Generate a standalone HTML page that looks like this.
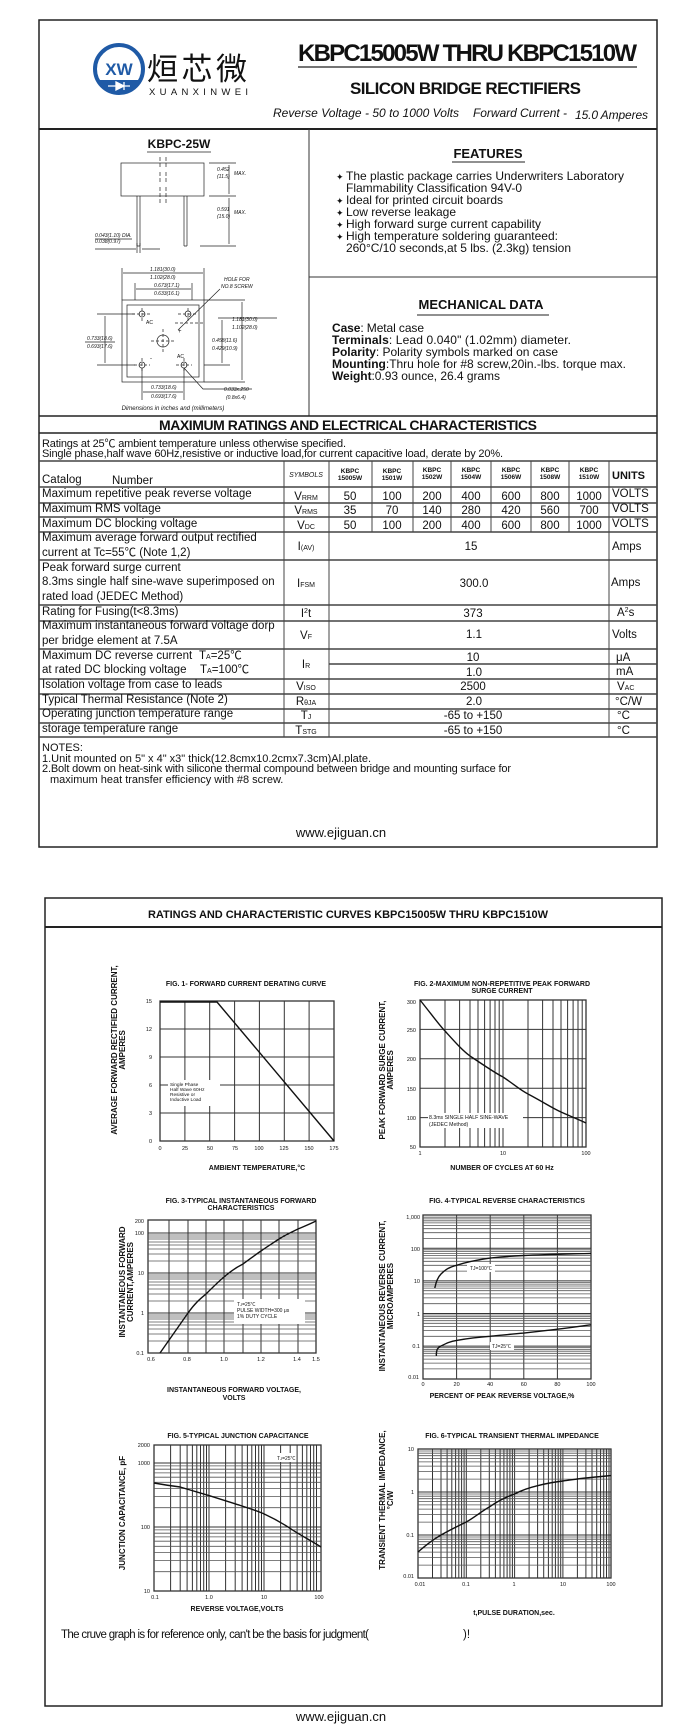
<!DOCTYPE html>
<html><head><meta charset="utf-8"><style>
html,body{margin:0;padding:0;background:#fff;}
svg{display:block;}
text{font-family:"Liberation Sans","Noto Sans CJK SC",sans-serif;fill:#111;}
.b{font-weight:bold;}
.g{stroke:#333;stroke-width:1;fill:none;}
.m{stroke:#555;stroke-width:0.8;fill:none;}
.c{stroke:#111;stroke-width:1.4;fill:none;}
.t{stroke:#333;stroke-width:1.3;fill:none;}
.d{stroke:#222;stroke-width:0.7;fill:none;}
</style></head><body>
<svg width="694" height="1736" viewBox="0 0 694 1736" xmlns="http://www.w3.org/2000/svg">
<!-- PAGE 1 -->
<rect x="39" y="20" width="618" height="827" fill="none" stroke="#222" stroke-width="1.5"/>
<circle cx="119" cy="69" r="24" fill="none" stroke="#1f5aa6" stroke-width="4"/>
<path d="M97,80 A24,24 0 0 0 141,80 Z" fill="#1f5aa6"/>
<text x="119" y="75" font-size="17" text-anchor="middle" style="fill:#1f5aa6" class="b">XW</text>
<path d="M108,86 H130 M116,82 V90 M116,82 L124,86 L116,90 Z M124,82 V90" stroke="#fff" stroke-width="1.3" fill="#fff"/>
<text x="147" y="80" font-size="31" style="font-family:'Noto Sans CJK SC',sans-serif" textLength="100">烜芯微</text>
<text x="149" y="95" font-size="9.5" textLength="99">XUANXINWEI</text>
<text x="298" y="61" font-size="24" class="b" textLength="339">KBPC15005W THRU KBPC1510W</text>
<line x1="298" y1="67" x2="637" y2="67" stroke="#222" stroke-width="1.2"/>
<text x="350" y="94" font-size="17" class="b" textLength="231">SILICON BRIDGE RECTIFIERS</text>
<text x="273" y="117" font-size="12" font-style="italic" textLength="186">Reverse Voltage - 50 to 1000 Volts</text>
<text x="473" y="117" font-size="12" font-style="italic" textLength="94">Forward Current -</text>
<text x="575" y="119" font-size="12" font-style="italic" textLength="73">15.0 Amperes</text>
<line x1="39" y1="129" x2="657" y2="129" stroke="#222" stroke-width="2"/>
<line x1="309" y1="129" x2="309" y2="416" stroke="#333" stroke-width="1"/>
<line x1="309" y1="277" x2="657" y2="277" stroke="#333" stroke-width="1"/>
<text x="179" y="148" font-size="12" class="b" text-anchor="middle">KBPC-25W</text>
<line x1="147" y1="152" x2="211" y2="152" stroke="#222" stroke-width="0.8"/>
<rect x="121" y="163" width="83" height="33" class="d"/>
<path d="M160,157 V168 M160,172 V183 M160,187 V205 M166,157 V168 M166,172 V183 M166,187 V205" class="d" stroke-dasharray="4,2"/>
<path d="M137,196 V246 M140,196 V246 M184,196 V246 M187,196 V246 M137,246 H140 M184,246 H187" class="d"/>
<path d="M209,163 H236 M209,196 H236 M200,246 H236 M229,165 V194 M229,198 V244" class="d"/>
<text x="217" y="171" font-size="5" font-style="italic">0.452</text><text x="217" y="178" font-size="5" font-style="italic">(11.5)</text><text x="234" y="175" font-size="5" font-style="italic">MAX.</text>
<text x="217" y="211" font-size="5" font-style="italic">0.591</text><text x="217" y="218" font-size="5" font-style="italic">(15.0)</text><text x="234" y="214" font-size="5" font-style="italic">MAX.</text>
<text x="95" y="237" font-size="5" font-style="italic">0.043(1.10) DIA.</text><text x="95" y="243" font-size="5" font-style="italic">0.038(0.97)</text>
<path d="M95,239 H132 M95,249 H136 M142,249 H160 M137,243 V253 M140,243 V253" class="d"/>
<rect x="122" y="300" width="82" height="82" class="d"/>
<rect x="127" y="305" width="72" height="72" class="d"/>
<circle cx="142" cy="314" r="3" class="d"/><circle cx="188" cy="314" r="3" class="d"/>
<circle cx="142" cy="365" r="3" class="d"/><circle cx="184" cy="365" r="3" class="d"/>
<circle cx="163" cy="341" r="6" class="d"/>
<path d="M151,341 H175 M163,329 V353 M132,314 H152 M178,314 H198 M134,365 H150 M176,365 H192 M142,308 V322 M188,308 V322 M142,358 V372 M184,358 V372 M175,323 H205" class="d" stroke-dasharray="3,2"/>
<text x="146" y="324" font-size="5">AC</text><text x="177" y="358" font-size="5">AC</text>
<text x="178" y="333" font-size="6">+</text><text x="150" y="360" font-size="6">-</text>
<path d="M122,268 V300 M204,268 V300 M123,273 H203 M135,283 V300 M192,283 V300 M136,289 H191" class="d"/>
<text x="150" y="271" font-size="5" font-style="italic">1.181(30.0)</text><text x="150" y="279" font-size="5" font-style="italic">1.102(28.0)</text>
<text x="154" y="287" font-size="5" font-style="italic">0.673(17.1)</text><text x="154" y="295" font-size="5" font-style="italic">0.633(16.1)</text>
<text x="224" y="281" font-size="5" font-style="italic">HOLE FOR</text><text x="221" y="288" font-size="5" font-style="italic">NO.8 SCREW</text>
<path d="M220,289 L178,330 M204,300 H245 M204,382 H245 M242,302 V380 M218,318 H277 M204,365 H230 M222,320 V363" class="d"/>
<text x="232" y="321" font-size="5" font-style="italic">1.181(30.0)</text><text x="232" y="329" font-size="5" font-style="italic">1.102(28.0)</text>
<text x="212" y="342" font-size="5" font-style="italic">0.458(11.6)</text><text x="212" y="350" font-size="5" font-style="italic">0.429(10.9)</text>
<path d="M97,314 H135 M97,365 H135 M105,316 V363 M85,342 H115" class="d"/>
<text x="87" y="340" font-size="5" font-style="italic">0.733(18.6)</text><text x="87" y="348" font-size="5" font-style="italic">0.693(17.6)</text>
<path d="M142,368 V400 M184,368 V400 M143,392 H183 M184,368 L203,389 H252" class="d"/>
<text x="151" y="389" font-size="5" font-style="italic">0.733(18.6)</text><text x="151" y="398" font-size="5" font-style="italic">0.693(17.6)</text>
<text x="224" y="391" font-size="5" font-style="italic">0.033x.250</text><text x="226" y="399" font-size="5" font-style="italic">(0.8x6.4)</text>
<text x="173" y="410" font-size="6" font-style="italic" text-anchor="middle">Dimensions in inches and (millimeters)</text>
<text x="488" y="158" font-size="13" class="b" text-anchor="middle">FEATURES</text>
<line x1="452" y1="162" x2="525" y2="162" stroke="#222" stroke-width="1"/>
<g font-size="12">
<text x="336" y="180" font-size="9">✦</text><text x="346" y="180" textLength="278">The plastic package carries Underwriters Laboratory</text>
<text x="346" y="192" textLength="176">Flammability Classification 94V-0</text>
<text x="336" y="204" font-size="9">✦</text><text x="346" y="204" textLength="157">Ideal for printed circuit boards</text>
<text x="336" y="216" font-size="9">✦</text><text x="346" y="216" textLength="110">Low reverse leakage</text>
<text x="336" y="228" font-size="9">✦</text><text x="346" y="228" textLength="195">High forward surge current capability</text>
<text x="336" y="240" font-size="9">✦</text><text x="346" y="240" textLength="212">High temperature soldering guaranteed:</text>
<text x="346" y="252" textLength="225">260°C/10 seconds,at 5 lbs. (2.3kg) tension</text>
</g>
<text x="481" y="309" font-size="13" class="b" text-anchor="middle">MECHANICAL DATA</text>
<line x1="417" y1="315" x2="549" y2="315" stroke="#222" stroke-width="1"/>
<g font-size="12">
<text x="332" y="332" textLength="92"><tspan class="b">Case</tspan>: Metal case</text>
<text x="332" y="344" textLength="239"><tspan class="b">Terminals</tspan>: Lead 0.040"   (1.02mm) diameter.</text>
<text x="332" y="356" textLength="226"><tspan class="b">Polarity</tspan>: Polarity symbols marked on case</text>
<text x="332" y="368" textLength="294"><tspan class="b">Mounting</tspan>:Thru hole for #8 screw,20in.-lbs. torque max.</text>
<text x="332" y="380" textLength="168"><tspan class="b">Weight</tspan>:0.93 ounce, 26.4 grams</text>
</g>
<line x1="39" y1="416" x2="657" y2="416" stroke="#222" stroke-width="1.5"/>
<text x="348" y="430" font-size="14" class="b" text-anchor="middle" textLength="378">MAXIMUM RATINGS AND ELECTRICAL CHARACTERISTICS</text>
<line x1="39" y1="433" x2="657" y2="433" stroke="#222" stroke-width="1.5"/>
<text x="42" y="447" font-size="11" textLength="304">Ratings at 25℃ ambient temperature unless otherwise specified.</text>
<text x="42" y="457" font-size="11" textLength="461">Single phase,half wave 60Hz,resistive or inductive load,for current capacitive load, derate by 20%.</text>
<g stroke="#444" stroke-width="1.4">
<line x1="39" y1="461" x2="657" y2="461"/><line x1="39" y1="487" x2="657" y2="487"/>
<line x1="39" y1="503" x2="657" y2="503"/><line x1="39" y1="517" x2="657" y2="517"/>
<line x1="39" y1="532" x2="657" y2="532"/><line x1="39" y1="560" x2="657" y2="560"/>
<line x1="39" y1="605" x2="657" y2="605"/><line x1="39" y1="621" x2="657" y2="621"/>
<line x1="39" y1="649" x2="657" y2="649"/><line x1="329" y1="664" x2="657" y2="664"/>
<line x1="39" y1="679" x2="657" y2="679"/><line x1="39" y1="694" x2="657" y2="694"/>
<line x1="39" y1="709" x2="657" y2="709"/><line x1="39" y1="723" x2="657" y2="723"/>
<line x1="39" y1="737" x2="657" y2="737"/>
</g>
<g stroke="#444" stroke-width="1">
<line x1="284" y1="461" x2="284" y2="737"/><line x1="329" y1="461" x2="329" y2="737"/>
<line x1="609" y1="461" x2="609" y2="737"/>
<line x1="372" y1="461" x2="372" y2="532"/><line x1="413" y1="461" x2="413" y2="532"/>
<line x1="451" y1="461" x2="451" y2="532"/><line x1="491" y1="461" x2="491" y2="532"/>
<line x1="531" y1="461" x2="531" y2="532"/><line x1="569" y1="461" x2="569" y2="532"/>
</g>
<text x="42" y="483" font-size="11.5">Catalog</text><text x="112" y="484" font-size="11.5">Number</text>
<text x="306" y="477" font-size="7" font-style="italic" text-anchor="middle">SYMBOLS</text>
<g font-size="6.5" class="b" text-anchor="middle">
<text x="350" y="473">KBPC</text><text x="350" y="480">15005W</text>
<text x="392" y="473">KBPC</text><text x="392" y="480">1501W</text>
<text x="432" y="472">KBPC</text><text x="432" y="479">1502W</text>
<text x="471" y="472">KBPC</text><text x="471" y="479">1504W</text>
<text x="511" y="472">KBPC</text><text x="511" y="479">1506W</text>
<text x="550" y="472">KBPC</text><text x="550" y="479">1508W</text>
<text x="589" y="472">KBPC</text><text x="589" y="479">1510W</text>
</g>
<text x="612" y="479" font-size="11" class="b">UNITS</text>
<g font-size="11.5">
<text x="42" y="497">Maximum repetitive peak reverse voltage</text>
<text x="42" y="512">Maximum RMS voltage</text>
<text x="42" y="527">Maximum DC blocking voltage</text>
<text x="42" y="541">Maximum average forward output rectified</text>
<text x="42" y="556">current at  Tc=55℃  (Note 1,2)</text>
<text x="42" y="571">Peak forward surge current</text>
<text x="42" y="585">8.3ms single half sine-wave superimposed on</text>
<text x="42" y="600">rated load (JEDEC Method)</text>
<text x="42" y="615">Rating for Fusing(t&lt;8.3ms)</text>
<text x="42" y="629">Maximum instantaneous forward voltage dorp</text>
<text x="42" y="644">per bridge element at 7.5A</text>
<text x="42" y="659">Maximum DC reverse current</text><text x="199" y="659">T<tspan font-size="7">A</tspan>=25℃</text>
<text x="42" y="673">at rated DC blocking voltage</text><text x="200" y="673">T<tspan font-size="7">A</tspan>=100℃</text>
<text x="42" y="688">Isolation voltage from case to leads</text>
<text x="42" y="703">Typical Thermal Resistance (Note 2)</text>
<text x="42" y="717">Operating junction temperature range</text>
<text x="42" y="732">storage temperature range</text>
</g>
<g font-size="11.5" text-anchor="middle">
<text x="306" y="500">V<tspan font-size="7">RRM</tspan></text>
<text x="306" y="514">V<tspan font-size="7">RMS</tspan></text>
<text x="306" y="529">V<tspan font-size="7">DC</tspan></text>
<text x="306" y="550">I<tspan font-size="7">(AV)</tspan></text>
<text x="306" y="587">I<tspan font-size="7">FSM</tspan></text>
<text x="306" y="617">I<tspan font-size="7" dy="-4">2</tspan><tspan dy="4">t</tspan></text>
<text x="306" y="639">V<tspan font-size="7">F</tspan></text>
<text x="306" y="668">I<tspan font-size="7">R</tspan></text>
<text x="306" y="690">V<tspan font-size="7">ISO</tspan></text>
<text x="306" y="705">R<tspan font-size="7">θJA</tspan></text>
<text x="306" y="719">T<tspan font-size="7">J</tspan></text>
<text x="306" y="734">T<tspan font-size="7">STG</tspan></text>
<text x="350" y="500">50</text><text x="392" y="500">100</text><text x="432" y="500">200</text><text x="471" y="500">400</text><text x="511" y="500">600</text><text x="550" y="500">800</text><text x="589" y="500">1000</text>
<text x="350" y="514">35</text><text x="392" y="514">70</text><text x="432" y="514">140</text><text x="471" y="514">280</text><text x="511" y="514">420</text><text x="550" y="514">560</text><text x="589" y="514">700</text>
<text x="350" y="529">50</text><text x="392" y="529">100</text><text x="432" y="529">200</text><text x="471" y="529">400</text><text x="511" y="529">600</text><text x="550" y="529">800</text><text x="589" y="529">1000</text>
<text x="471" y="550">15</text>
<text x="474" y="587">300.0</text>
<text x="473" y="617">373</text>
<text x="474" y="638">1.1</text>
<text x="473" y="661">10</text>
<text x="474" y="676">1.0</text>
<text x="473" y="690">2500</text>
<text x="474" y="705">2.0</text>
<text x="473" y="719">-65 to +150</text>
<text x="473" y="734">-65 to +150</text>
</g>
<g font-size="11.5">
<text x="612" y="497">VOLTS</text><text x="612" y="512">VOLTS</text><text x="612" y="527">VOLTS</text>
<text x="612" y="550">Amps</text><text x="611" y="586">Amps</text>
<text x="617" y="616">A<tspan font-size="7" dy="-4">2</tspan><tspan dy="4">s</tspan></text>
<text x="612" y="638">Volts</text>
<text x="616" y="661">μA</text><text x="616" y="675">mA</text>
<text x="617" y="690">V<tspan font-size="7">AC</tspan></text>
<text x="615" y="705">°C/W</text><text x="617" y="719">°C</text><text x="617" y="734">°C</text>
</g>
<g font-size="11">
<text x="42" y="751">NOTES:</text>
<text x="42" y="762">1.Unit mounted on 5"   x 4"   x3"   thick(12.8cmx10.2cmx7.3cm)Al.plate.</text>
<text x="42" y="772" textLength="469">2.Bolt dowm on heat-sink with silicone thermal compound between bridge and mounting surface for</text>
<text x="50" y="783">maximum heat transfer efficiency with #8 screw.</text>
</g>
<text x="341" y="837" font-size="13" text-anchor="middle">www.ejiguan.cn</text>

<!-- PAGE 2 -->
<rect x="45" y="898" width="617" height="808" fill="none" stroke="#222" stroke-width="1.5"/>
<line x1="45" y1="927" x2="662" y2="927" stroke="#222" stroke-width="2"/>
<text x="348" y="918" font-size="11" class="b" text-anchor="middle" textLength="400">RATINGS AND CHARACTERISTIC CURVES KBPC15005W THRU KBPC1510W</text>

<text x="246" y="986" font-size="7" class="b" text-anchor="middle">FIG. 1- FORWARD CURRENT DERATING CURVE</text>
<rect x="160" y="1001" width="174" height="140" class="t"/>
<path d="M184.9,1001V1141M209.7,1001V1141M234.6,1001V1141M259.4,1001V1141M284.3,1001V1141M309.1,1001V1141M160,1029H334M160,1057H334M160,1085H334M160,1113H334" class="g" stroke-width="1.2"/>
<rect x="168" y="1080" width="52" height="26" fill="#fff"/>
<g font-size="4.8"><text x="170" y="1086">Single Phase</text><text x="170" y="1091">Half Wave 60Hz</text><text x="170" y="1096">Resistive or</text><text x="170" y="1101">Inductive Load</text></g>
<path d="M160,1002 H217 L334,1141" class="c"/>
<g font-size="5.5" text-anchor="end"><text x="152" y="1003">15</text><text x="152" y="1031">12</text><text x="152" y="1059">9</text><text x="152" y="1087">6</text><text x="152" y="1115">3</text><text x="152" y="1143">0</text></g>
<g font-size="5.5" text-anchor="middle"><text x="160" y="1150">0</text><text x="185" y="1150">25</text><text x="210" y="1150">50</text><text x="235" y="1150">75</text><text x="259" y="1150">100</text><text x="284" y="1150">125</text><text x="309" y="1150">150</text><text x="334" y="1150">175</text></g>
<text x="257" y="1170" font-size="7" class="b" text-anchor="middle">AMBIENT TEMPERATURE,°C</text>
<text transform="translate(117,1050) rotate(-90)" font-size="8" class="b" text-anchor="middle">AVERAGE  FORWARD RECTIFIED CURRENT,</text>
<text transform="translate(125,1050) rotate(-90)" font-size="8" class="b" text-anchor="middle">AMPERES</text>

<text x="502" y="986" font-size="7" class="b" text-anchor="middle">FIG. 2-MAXIMUM NON-REPETITIVE PEAK FORWARD</text>
<text x="502" y="993" font-size="7" class="b" text-anchor="middle">SURGE CURRENT</text>
<rect x="420" y="1000" width="166" height="147" class="t"/>
<path d="M445,1000V1147M459.6,1000V1147M470,1000V1147M478,1000V1147M484.6,1000V1147M490.1,1000V1147M495,1000V1147M499.2,1000V1147M503,1000V1147M528,1000V1147M542.6,1000V1147M553,1000V1147M561,1000V1147M567.6,1000V1147M573.1,1000V1147M578,1000V1147M582.2,1000V1147M420,1029.4H586M420,1058.8H586M420,1088.2H586M420,1117.6H586" class="g" stroke-width="1.1"/>
<rect x="428" y="1113" width="95" height="15" fill="#fff"/>
<g font-size="5.2"><text x="429" y="1119">8.3ms SINGLE HALF SINE-WAVE</text><text x="429" y="1126">(JEDEC Method)</text></g>
<path d="M420,1000 C432,1015 440,1026 445,1031 C455,1042 462,1050 470,1056 C485,1066 495,1073 503,1077 C515,1085 520,1090 528,1094 C545,1103 552,1108 561,1112 C572,1117 580,1120 586,1123" class="c"/>
<g font-size="5.5" text-anchor="end"><text x="416" y="1004">300</text><text x="416" y="1032">250</text><text x="416" y="1061">200</text><text x="416" y="1091">150</text><text x="416" y="1120">100</text><text x="416" y="1149">50</text></g>
<g font-size="5.5" text-anchor="middle"><text x="420" y="1155">1</text><text x="503" y="1155">10</text><text x="586" y="1155">100</text></g>
<text x="502" y="1170" font-size="7" class="b" text-anchor="middle">NUMBER OF CYCLES AT 60 Hz</text>
<text transform="translate(385,1070) rotate(-90)" font-size="8" class="b" text-anchor="middle">PEAK   FORWARD SURGE CURRENT,</text>
<text transform="translate(393,1070) rotate(-90)" font-size="8" class="b" text-anchor="middle">AMPERES</text>

<text x="241" y="1203" font-size="7" class="b" text-anchor="middle">FIG. 3-TYPICAL INSTANTANEOUS FORWARD</text>
<text x="241" y="1210" font-size="7" class="b" text-anchor="middle">CHARACTERISTICS</text>
<rect x="148" y="1220" width="168" height="133" class="t"/>
<path d="M169,1220V1353M188,1220V1353M206,1220V1353M224,1220V1353M243,1220V1353M261,1220V1353M279,1220V1353M298,1220V1353" class="g" stroke-width="1.2"/>
<path d="M148,1341H316M148,1334H316M148,1329H316M148,1325H316M148,1322H316M148,1319H316M148,1317H316M148,1315H316M148,1301H316M148,1294H316M148,1289H316M148,1285H316M148,1282H316M148,1279H316M148,1277H316M148,1275H316M148,1261H316M148,1254H316M148,1249H316M148,1245H316M148,1242H316M148,1239H316M148,1237H316M148,1235H316" class="m"/>
<path d="M148,1313H316M148,1273H316M148,1233H316" class="g" stroke-width="1.3"/>
<rect x="234" y="1299" width="71" height="25" fill="#fff"/>
<g font-size="5"><text x="237" y="1306">T<tspan font-size="4">J</tspan>=25℃</text><text x="237" y="1312">PULSE WIDTH=300 μs</text><text x="237" y="1318">1% DUTY CYCLE</text></g>
<path d="M160,1353 L188,1313 C195,1303 200,1299 206,1294 C213,1287 218,1282 224,1277 C232,1270 237,1267 243,1264 C250,1259 255,1255 261,1251 C268,1246 273,1243 279,1239 C287,1234 292,1232 298,1229 C305,1226 310,1224 316,1221" class="c"/>
<g font-size="5.5" text-anchor="end"><text x="144" y="1223">200</text><text x="144" y="1235">100</text><text x="144" y="1275">10</text><text x="144" y="1315">1</text><text x="144" y="1355">0.1</text></g>
<g font-size="5.5" text-anchor="middle"><text x="151" y="1361">0.6</text><text x="187" y="1361">0.8</text><text x="224" y="1361">1.0</text><text x="261" y="1361">1.2</text><text x="297" y="1361">1.4</text><text x="316" y="1361">1.5</text></g>
<text x="234" y="1392" font-size="7" class="b" text-anchor="middle">INSTANTANEOUS FORWARD VOLTAGE,</text>
<text x="234" y="1400" font-size="7" class="b" text-anchor="middle">VOLTS</text>
<text transform="translate(125,1282) rotate(-90)" font-size="8" class="b" text-anchor="middle">INSTANTANEOUS FORWARD</text>
<text transform="translate(133,1282) rotate(-90)" font-size="8" class="b" text-anchor="middle">CURRENT,AMPERES</text>

<text x="507" y="1203" font-size="7" class="b" text-anchor="middle">FIG. 4-TYPICAL REVERSE CHARACTERISTICS</text>
<rect x="423" y="1215" width="168" height="164" class="t"/>
<path d="M456.6,1215V1379M490.2,1215V1379M523.8,1215V1379M557.4,1215V1379" class="g" stroke-width="1.2"/>
<path d="M423,1368.9H591M423,1363.1H591M423,1359.1H591M423,1355.9H591M423,1353.3H591M423,1351.2H591M423,1349.3H591M423,1347.6H591M423,1336.3H591M423,1330.5H591M423,1326.5H591M423,1323.3H591M423,1320.7H591M423,1318.6H591M423,1316.7H591M423,1315H591M423,1303.7H591M423,1297.9H591M423,1293.9H591M423,1290.7H591M423,1288.1H591M423,1286H591M423,1284.1H591M423,1282.4H591M423,1271.1H591M423,1265.3H591M423,1261.3H591M423,1258.1H591M423,1255.5H591M423,1253.4H591M423,1251.5H591M423,1249.8H591M423,1238.5H591M423,1232.7H591M423,1228.7H591M423,1225.5H591M423,1222.9H591M423,1220.8H591M423,1218.9H591M423,1217.2H591" class="m"/>
<path d="M423,1346.1H591M423,1313.5H591M423,1280.9H591M423,1248.3H591" class="g" stroke-width="1.3"/>
<rect x="467" y="1264" width="28" height="8" fill="#fff"/>
<text x="470" y="1270" font-size="5">TJ=100℃</text>
<rect x="490" y="1342" width="24" height="8" fill="#fff"/>
<text x="492" y="1348" font-size="5">TJ=25℃</text>
<path d="M434.8,1288 C436,1282 438,1277 441,1274 C446,1269 450,1267 456.6,1265.3 C470,1261 480,1259.5 490.2,1258.1 C505,1256.5 512,1256 523.8,1255.5 C545,1254.5 570,1254 591,1253.4" class="c"/>
<path d="M436.4,1356 C436,1350 438,1347 441,1346 C447,1343 450,1341.5 456.6,1340.4 C470,1338 480,1337 490.2,1336.3 C505,1334.8 512,1334 523.8,1333.1 C540,1331.3 548,1330.2 557.4,1329.2 C570,1327.8 580,1326.2 591,1324.8" class="c"/>
<g font-size="5.5" text-anchor="end"><text x="420" y="1219">1,000</text><text x="420" y="1251">100</text><text x="420" y="1283">10</text><text x="420" y="1316">1</text><text x="420" y="1348">0.1</text><text x="419" y="1379">0.01</text></g>
<g font-size="5.5" text-anchor="middle"><text x="423" y="1386">0</text><text x="456.6" y="1386">20</text><text x="490.2" y="1386">40</text><text x="523.8" y="1386">60</text><text x="557.4" y="1386">80</text><text x="591" y="1386">100</text></g>
<text x="502" y="1398" font-size="7" class="b" text-anchor="middle">PERCENT OF PEAK REVERSE VOLTAGE,%</text>
<text transform="translate(385,1296) rotate(-90)" font-size="8" class="b" text-anchor="middle">INSTANTANEOUS REVERSE CURRENT,</text>
<text transform="translate(393,1296) rotate(-90)" font-size="8" class="b" text-anchor="middle">MICROAMPERES</text>

<text x="238" y="1438" font-size="7" class="b" text-anchor="middle">FIG. 5-TYPICAL JUNCTION CAPACITANCE</text>
<rect x="154" y="1445" width="167" height="146" class="t"/>
<path d="M170.6,1445V1591M180.2,1445V1591M187.1,1445V1591M192.4,1445V1591M196.8,1445V1591M200.5,1445V1591M203.7,1445V1591M206.5,1445V1591M209,1445V1591M225.6,1445V1591M235.2,1445V1591M242.1,1445V1591M247.4,1445V1591M251.8,1445V1591M255.5,1445V1591M258.7,1445V1591M261.5,1445V1591M264,1445V1591M280.6,1445V1591M290.2,1445V1591M297.1,1445V1591M302.4,1445V1591M306.8,1445V1591M310.5,1445V1591M313.7,1445V1591M316.5,1445V1591" class="g"/>
<path d="M154,1571.7H321M154,1560.5H321M154,1552.5H321M154,1546.3H321M154,1541.2H321M154,1536.9H321M154,1533.2H321M154,1529.9H321M154,1507.7H321M154,1496.5H321M154,1488.5H321M154,1482.3H321M154,1477.2H321M154,1472.9H321M154,1469.2H321M154,1465.9H321" class="m"/>
<path d="M154,1527H321M154,1463H321" class="g" stroke-width="1.3"/>
<rect x="274" y="1453" width="22" height="9" fill="#fff"/>
<text x="277" y="1460" font-size="5">T<tspan font-size="4">J</tspan>=25℃</text>
<path d="M154,1483 C165,1485 172,1486 180.2,1487 C190,1490 200,1493 209,1495.6 C220,1499 228,1501.5 235.2,1503.8 C245,1507 255,1510 264,1513.9 C275,1519 282,1523 290.2,1528.4 C300,1535 310,1540 321,1547" class="c"/>
<g font-size="5.5" text-anchor="end"><text x="150" y="1447">2000</text><text x="150" y="1465">1000</text><text x="150" y="1529">100</text><text x="150" y="1593">10</text></g>
<g font-size="5.5" text-anchor="middle"><text x="155" y="1599">0.1</text><text x="209" y="1599">1.0</text><text x="264" y="1599">10</text><text x="319" y="1599">100</text></g>
<text x="237" y="1611" font-size="7" class="b" text-anchor="middle">REVERSE VOLTAGE,VOLTS</text>
<text transform="translate(125,1513) rotate(-90)" font-size="8" class="b" text-anchor="middle">JUNCTION CAPACITANCE, pF</text>

<text x="512" y="1438" font-size="7" class="b" text-anchor="middle">FIG. 6-TYPICAL TRANSIENT THERMAL IMPEDANCE</text>
<rect x="418" y="1449" width="193" height="129" class="t"/>
<path d="M432.5,1449V1578M441,1449V1578M447.1,1449V1578M451.8,1449V1578M455.6,1449V1578M458.8,1449V1578M461.6,1449V1578M464.1,1449V1578M466.3,1449V1578M480.8,1449V1578M489.3,1449V1578M495.4,1449V1578M500.1,1449V1578M503.9,1449V1578M507.1,1449V1578M509.9,1449V1578M512.4,1449V1578M514.6,1449V1578M529.1,1449V1578M537.6,1449V1578M543.7,1449V1578M548.4,1449V1578M552.2,1449V1578M555.4,1449V1578M558.2,1449V1578M560.7,1449V1578M562.9,1449V1578M577.4,1449V1578M585.9,1449V1578M592,1449V1578M596.7,1449V1578M600.5,1449V1578M603.7,1449V1578M606.5,1449V1578M609,1449V1578" class="g"/>
<path d="M418,1565.1H611M418,1557.5H611M418,1552.1H611M418,1547.9H611M418,1544.5H611M418,1541.7H611M418,1539.2H611M418,1537H611M418,1522.1H611M418,1514.5H611M418,1509.1H611M418,1504.9H611M418,1501.5H611M418,1498.7H611M418,1496.2H611M418,1494H611M418,1479.1H611M418,1471.5H611M418,1466.1H611M418,1461.9H611M418,1458.5H611M418,1455.7H611M418,1453.2H611M418,1451H611" class="m"/>
<path d="M418,1535H611M418,1492H611" class="g" stroke-width="1.3"/>
<path d="M418,1552 C426,1545 434,1539 441,1535 C450,1530 458,1526 466.3,1522 C475,1517 482,1511 489.3,1507 C498,1501 506,1497 514.6,1494 C522,1490 530,1487.5 537.6,1485.7 C546,1483.5 554,1482 562.9,1481 C571,1480 578,1478.8 585.9,1478 C594,1477 603,1476.3 611,1475.6" class="c"/>
<g font-size="5.5" text-anchor="end"><text x="414" y="1451">10</text><text x="414" y="1494">1</text><text x="414" y="1537">0.1</text><text x="414" y="1578">0.01</text></g>
<g font-size="5.5" text-anchor="middle"><text x="420" y="1586">0.01</text><text x="466" y="1586">0.1</text><text x="514" y="1586">1</text><text x="563" y="1586">10</text><text x="611" y="1586">100</text></g>
<text x="514" y="1615" font-size="7" class="b" text-anchor="middle">t,PULSE DURATION,sec.</text>
<text transform="translate(385,1500) rotate(-90)" font-size="8" class="b" text-anchor="middle">TRANSIENT THERMAL IMPEDANCE,</text>
<text transform="translate(393,1500) rotate(-90)" font-size="8" class="b" text-anchor="middle">°C/W</text>

<text x="61" y="1638" font-size="11.5" textLength="308">The cruve graph is for reference only, can't be the basis for judgment(</text>
<text x="463" y="1638" font-size="11.5">)!</text>
<text x="341" y="1721" font-size="13" text-anchor="middle">www.ejiguan.cn</text>
</svg>
</body></html>
